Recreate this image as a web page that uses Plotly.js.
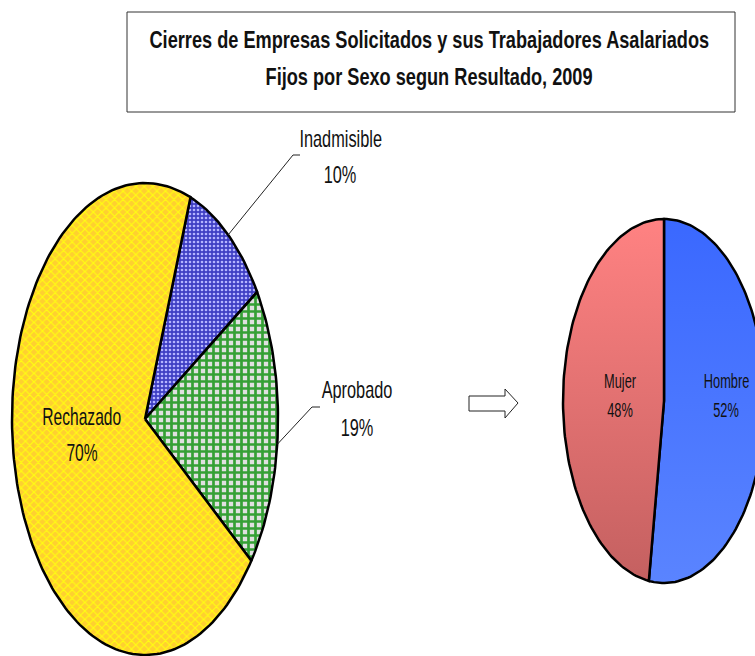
<!DOCTYPE html>
<html>
<head>
<meta charset="utf-8">
<script src="https://cdn.plot.ly/plotly-3.0.1.min.js"></script>
<style>
  html, body { margin: 0; padding: 0; background: #ffffff; }
  #chart { width: 755px; height: 656px; }
</style>
</head>
<body>
<div id="chart"></div>
<script>
// Cierres de empresas por resultado (share of requests)
const resultLabels = ['Inadmisible', 'Aprobado', 'Rechazado'];
const resultValues = [10.4, 19.3, 70.3];

// Trabajadores asalariados fijos por sexo
const sexLabels = ['Hombre', 'Mujer'];
const sexValues = [52.4, 47.6];

const titleLines = [
  'Cierres de Empresas Solicitados y sus Trabajadores Asalariados',
  'Fijos por Sexo segun Resultado, 2009'
];

const FONT = '"Liberation Sans Narrow", "Arial Narrow", "Liberation Sans", Arial, sans-serif';

// Geometry of the two (stretched) pies, in page pixels
const leftPie = { cx: 145, cy: 419, rx: 133, ry: 236, start: 20 };
const rightPie = { cx: 664, cy: 401, rx: 101, ry: 182, start: 0 };

const leftStyles = [
  { bgcolor: '#3f3fc4', fgcolor: '#b4b4ff', shape: '.', size: 4, solidity: 0.35 },
  { bgcolor: '#e0e0e0', fgcolor: '#35a035', shape: '+', size: 7, solidity: 0.62 },
  { bgcolor: '#ffd030', fgcolor: '#ffff10', shape: 'x', size: 6, solidity: 0.35 }
];
const rightGradients = [
  ['#3a68ff', '#5a84ff'],
  ['#ff8282', '#c46060']
];

// Build a slice outline for an elliptical pie (angles in degrees, clockwise from top)
function slicePath(pie, a0, a1) {
  const xs = [pie.cx], ys = [pie.cy];
  const steps = Math.max(8, Math.ceil((a1 - a0) / 1.5));
  for (let i = 0; i <= steps; i++) {
    const t = (a0 + (a1 - a0) * i / steps) * Math.PI / 180;
    xs.push(pie.cx + pie.rx * Math.sin(t));
    ys.push(pie.cy - pie.ry * Math.cos(t));
  }
  xs.push(pie.cx); ys.push(pie.cy);
  return { xs, ys };
}

function sliceAngles(pie, values) {
  const total = values.reduce((a, b) => a + b, 0);
  let acc = pie.start;
  return values.map(v => {
    const a0 = acc;
    acc += v / total * 360;
    return [a0, acc];
  });
}

function pointAt(pie, deg) {
  const t = deg * Math.PI / 180;
  return { x: pie.cx + pie.rx * Math.sin(t), y: pie.cy - pie.ry * Math.cos(t) };
}

const traces = [];
const leftAngles = sliceAngles(leftPie, resultValues);
leftAngles.forEach(([a0, a1], i) => {
  const p = slicePath(leftPie, a0, a1);
  traces.push({
    x: p.xs, y: p.ys, type: 'scatter', mode: 'lines', fill: 'toself',
    name: resultLabels[i],
    fillcolor: leftStyles[i].bgcolor,
    fillpattern: { ...leftStyles[i], fillmode: 'replace' },
    line: { color: '#000000', width: 2.5 },
    hoverinfo: 'name'
  });
});

const rightAngles = sliceAngles(rightPie, sexValues);
rightAngles.forEach(([a0, a1], i) => {
  const p = slicePath(rightPie, a0, a1);
  traces.push({
    x: p.xs, y: p.ys, type: 'scatter', mode: 'lines', fill: 'toself',
    name: sexLabels[i],
    fillcolor: rightGradients[i][0],
    fillgradient: {
      type: 'vertical',
      start: rightPie.cy - rightPie.ry,
      stop: rightPie.cy + rightPie.ry,
      colorscale: [[0, rightGradients[i][0]], [1, rightGradients[i][1]]]
    },
    line: { color: '#000000', width: 2.5 },
    hoverinfo: 'name'
  });
});

const pct = v => Math.round(v) + '%';
// squeeze = horizontal compression, the source image is squashed sideways
const squeeze = [];
const txt = (x, y, text, size, k) => {
  squeeze.push(k);
  return {
    x, y, text, xref: 'x', yref: 'y', showarrow: false,
    font: { family: FONT, size: size, color: '#111111' }
  };
};

const annotations = [
  txt(429, 40, '<b>' + titleLines[0] + '</b>', 23, 0.79),
  txt(429, 77, '<b>' + titleLines[1] + '</b>', 23, 0.79),
  // Left pie labels
  txt(340, 138, resultLabels[0], 24, 0.68), txt(340, 174, pct(resultValues[0]), 24, 0.68),
  txt(357, 389, resultLabels[1], 24, 0.68), txt(357, 427, pct(resultValues[1]), 24, 0.68),
  txt(81, 416, resultLabels[2], 24, 0.65), txt(82, 452, pct(resultValues[2]), 24, 0.65),
  // Right pie labels
  txt(726, 381, sexLabels[0], 20, 0.64), txt(726, 410, pct(sexValues[0]), 20, 0.64),
  txt(620, 381, sexLabels[1], 20, 0.64), txt(620, 410, pct(sexValues[1]), 20, 0.64)
];

// Leader lines from slice mid-points to the outside labels
const midIn = pointAt(leftPie, (leftAngles[0][0] + leftAngles[0][1]) / 2);
const midAp = pointAt(leftPie, (leftAngles[1][0] + leftAngles[1][1]) / 2 + 4);
const shapes = [
  { type: 'rect', xref: 'x', yref: 'y', x0: 127, x1: 735, y0: 12, y1: 112,
    line: { color: '#333333', width: 1 }, fillcolor: 'rgba(0,0,0,0)' },
  { type: 'path', xref: 'x', yref: 'y',
    path: `M${midIn.x},${midIn.y} L293,155 L300,155`,
    line: { color: '#222222', width: 1 } },
  { type: 'path', xref: 'x', yref: 'y',
    path: `M${midAp.x},${midAp.y} L312,407 L320,407`,
    line: { color: '#222222', width: 1 } },
  // Block arrow between the pies
  { type: 'path', xref: 'x', yref: 'y',
    path: 'M469,396 L505,396 L505,389 L518,403 L505,418 L505,411 L469,411 Z',
    line: { color: '#222222', width: 1 }, fillcolor: '#ffffff' }
];

const layout = {
  width: 755, height: 656,
  margin: { t: 0, l: 0, r: 0, b: 0 },
  showlegend: false,
  paper_bgcolor: '#ffffff', plot_bgcolor: '#ffffff',
  xaxis: { range: [0, 755], visible: false, fixedrange: true },
  yaxis: { range: [656, 0], visible: false, fixedrange: true },
  annotations, shapes
};

Plotly.newPlot('chart', traces, layout, { displayModeBar: false, staticPlot: true })
  .then(gd => {
    // No narrow font installed: compress label text sideways instead
    gd.querySelectorAll('.annotation').forEach(g => {
      const k = squeeze[+g.getAttribute('data-index')];
      const t = g.querySelector('text.annotation-text');
      if (!t || !k) return;
      t.style.transformBox = 'fill-box';
      t.style.transformOrigin = 'center';
      t.style.transform = `scaleX(${k})`;
    });
  });
</script>
</body>
</html>
